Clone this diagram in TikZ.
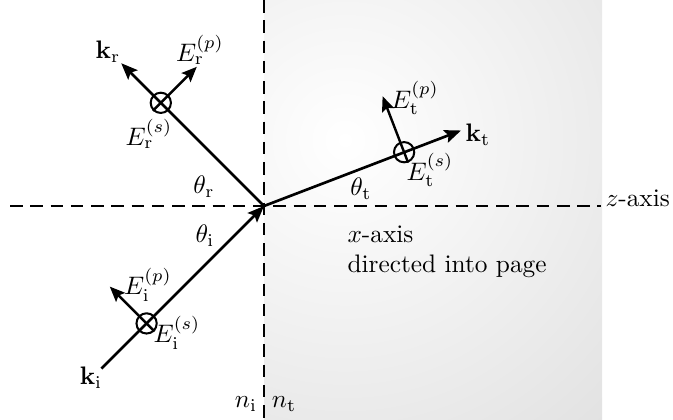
\documentclass[tikz,border=0pt]{standalone}
\usepackage{amsmath}
\usepackage{tikz}
\usetikzlibrary{arrows.meta,positioning,calc}
\definecolor{mediumgray}{HTML}{CACACA}
\tikzset{
  ray/.style={line width=1.05pt, -{Stealth[length=6.5pt, width=5.2pt, inset=1.2pt]}},
  field/.style={line width=0.95pt, -{Stealth[length=6pt, width=5pt, inset=1.1pt]}},
  pol/.style={circle, draw, line width=0.8pt, minimum size=8pt, inner sep=0pt},
  axisline/.style={line width=0.6pt, dash pattern=on 5pt off 3pt},
  lbl/.style={inner sep=1pt}
}
\begin{document}
\begin{tikzpicture}[x=0.395pt, y=-0.395pt]
  \useasboundingbox (0,0) rectangle (673,419);

  % transmitting medium
  \begin{scope}
    \clip (264,0) rectangle (602,419);
    \shade[inner color=white, outer color=mediumgray] (345,140) circle (700);
  \end{scope}

  \coordinate (O) at (264,206);
  \coordinate (top) at (264,0);
  \coordinate (bot) at (264,419);
  \coordinate (zl) at (10,206);
  \coordinate (zr) at (601,206);

  \coordinate (ki) at (101.4,368.6);
  \coordinate (kr) at (121.2,63.2);
  \coordinate (kt) at (461,130.5);
  \coordinate (pi) at (109.8,286.6);
  \coordinate (pr) at (196.8,66.8);
  \coordinate (pt) at (382.6,96.2);

  % axes
  \draw[axisline] (top) -- (bot);
  \draw[axisline] (zl) -- (zr);
  \node[anchor=base west, inner sep=0pt] (zlabel) at (605,206) {$z$-axis};
  \node[anchor=north west, align=left, inner sep=0pt] (xlabel) at (347,225) {$x$-axis\\directed into page};

  % rays
  \node[pol] (ci) at (146.6,323.4) {};
  \node[pol] (cr) at (160.8,102.8) {};
  \node[pol] (ct) at (404.1,152.2) {};

  \draw[ray] (ki) -- (O);
  \draw[ray] (O) -- (kr);
  \draw[ray] (O) -- (kt);

  \draw[field] (ci.south east) -- (pi);
  \draw[field] (cr.south west) -- (pr);
  \draw[field] (ct.-69) -- (pt);

  % labels
  \node[lbl] (kilabel) at (91,378) {$\mathbf{k}_\mathrm{i}$};
  \node[lbl] (krlabel) at (108,52) {$\mathbf{k}_\mathrm{r}$};
  \node[lbl] (ktlabel) at (478,135) {$\mathbf{k}_\mathrm{t}$};

  \node[lbl] (eip) at (148,285) {$E_\mathrm{i}^{(p)}$};
  \node[lbl] (eis) at (177,333) {$E_\mathrm{i}^{(s)}$};
  \node[lbl] (erp) at (200,50) {$E_\mathrm{r}^{(p)}$};
  \node[lbl] (ers) at (149,134) {$E_\mathrm{r}^{(s)}$};
  \node[lbl] (etp) at (415,98) {$E_\mathrm{t}^{(p)}$};
  \node[lbl] (ets) at (430,170) {$E_\mathrm{t}^{(s)}$};

  \node[lbl] (thi) at (205,236) {$\theta_\mathrm{i}$};
  \node[lbl] (thr) at (204,187) {$\theta_\mathrm{r}$};
  \node[lbl] (tht) at (361,189) {$\theta_\mathrm{t}$};

  \node[lbl] (ni) at (246,404) {$n_\mathrm{i}$};
  \node[lbl] (nt) at (284,404) {$n_\mathrm{t}$};
\end{tikzpicture}
\end{document}
